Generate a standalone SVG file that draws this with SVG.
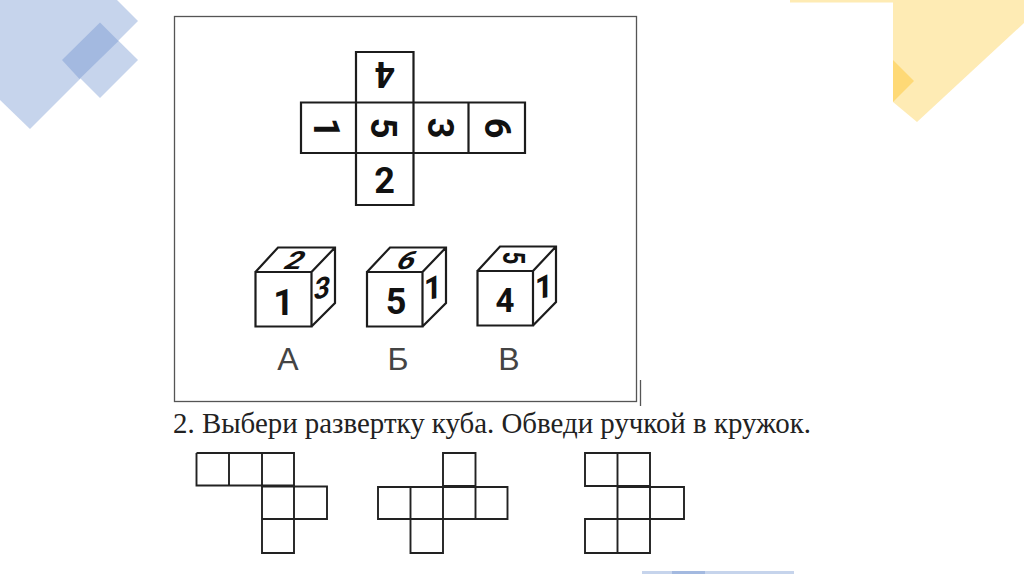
<svg xmlns="http://www.w3.org/2000/svg" width="1024" height="574" viewBox="0 0 1024 574">
<style>
.l{fill:none;stroke:#1c1c1c;stroke-width:2.2;stroke-linejoin:miter}
.t{fill:none;stroke:#222;stroke-width:1.9}
.d{font-family:Roboto,"Liberation Sans",Arial,sans-serif;font-weight:700;fill:#111;text-anchor:middle}
.n{font-size:36px}
.f{font-size:36px}
.a{font-family:"Liberation Sans",Arial,sans-serif;font-size:32px;fill:#444;text-anchor:middle}
.b{fill:#c6d4ec}
.y{fill:#feebb4}
</style>
<rect width="1024" height="574" fill="#fff"/>
<g id="decor">
<polygon class="b" points="0,0 117,0 138,21 30,129 0,100"/>
<polygon class="b" points="100,22.500 138,60 100,98 62,60"/>
<polygon fill="#a3b9e0" points="100,22.500 118.500,41 79.500,79 62,60"/>
<rect class="y" x="790" y="0" width="103" height="2.500"/>
<polygon class="y" points="893,0 1024,0 1024,23 917,122 893,102"/>
<polygon fill="#fed976" points="893,60 914,81 893,102"/>
<rect class="b" x="642" y="571" width="152" height="3"/>
<rect fill="#a3b9e0" x="672" y="571" width="33" height="3"/>
</g>
<g id="frame">
<rect x="174.500" y="16.500" width="462" height="385" fill="none" stroke="#555" stroke-width="1.300"/>
<line x1="640.500" y1="380" x2="640.500" y2="406" stroke="#555" stroke-width="1.300"/>
</g>
<g id="net-main">
<path class="l" d="M356 52H413.500V205H356ZM301 102.500H525V153H301ZM468.500 102.500V153"/>
<text class="d n" font-weight="500" transform="translate(385 75) rotate(180)" y="13">4</text>
<text class="d n" font-weight="500" transform="translate(384 128) rotate(90)" y="13">5</text>
<text class="d n" font-weight="500" transform="translate(327 128) rotate(90)" y="13">1</text>
<text class="d n" font-weight="500" transform="translate(441 128) rotate(90)" y="13">3</text>
<text class="d n" font-weight="500" transform="translate(498 128) rotate(90)" y="13">6</text>
<text class="d n" font-weight="500" x="384.500" y="193">2</text>
</g>
<g id="die-a">
<path class="l" d="M255.500 272H311.500V326.500H255.500ZM255.500 272L278 247.500H335V303L311.500 326.500M311.500 272L335 247.500"/>
<text class="d f" x="283.500" y="315">1</text>
<text class="d" font-size="25" font-style="italic" transform="translate(292 269) skewX(-20) scale(1.250 1)" font-weight="500">2</text>
<text class="d" font-size="29" font-style="italic" transform="translate(322 298) skewY(-14)" font-weight="500">3</text>
</g>
<g id="die-b">
<path class="l" d="M367 272H422.500V326.500H367ZM367 272L390 247.500H446V303L422.500 326.500M422.500 272L446 247.500"/>
<text class="d f" x="396" y="314">5</text>
<text class="d" font-size="25" font-style="italic" transform="translate(404 269) skewX(-20) scale(1.250 1)" font-weight="500">6</text>
<text class="d" font-size="32" transform="translate(433 299) skewY(-10)">1</text>
</g>
<g id="die-c">
<path class="l" d="M477.500 271H533V325.500H477.500ZM477.500 271L500 246.500H556V302L533 325.500M533 271L556 246.500"/>
<text class="d" font-size="33" x="505" y="312">4</text>
<text class="d" font-size="32" transform="translate(514 258) rotate(90) scale(0.7 1)" y="11" font-weight="500">5</text>
<text class="d" font-size="32" transform="translate(544 298) skewY(-10)">1</text>
</g>
<g id="labels">
<text class="a" x="288" y="370">А</text>
<text class="a" x="398" y="370">Б</text>
<text class="a" x="509" y="370">В</text>
</g>
<text id="task" x="173" y="433" font-family="'Liberation Serif','Times New Roman',serif" font-size="28.900" fill="#222">2. Выбери развертку куба. Обведи ручкой в кружок.</text>
<g id="net-1">
<path class="t" d="M196.500 453H294V553H262V453M196.500 453V485.500H294M229 453V485.500M262 486.500H327V519H262"/>
</g>
<g id="net-2">
<path class="t" d="M443 453H475.500V486H443ZM378 487H507.500V519H378ZM410.500 487V553H443V487M475.500 487V519"/>
</g>
<g id="net-3">
<path class="t" d="M585 453H650V486H585ZM617.500 453V553M650 486V553H585V519H650M617.500 487H684V519H650"/>
</g>
</svg>
